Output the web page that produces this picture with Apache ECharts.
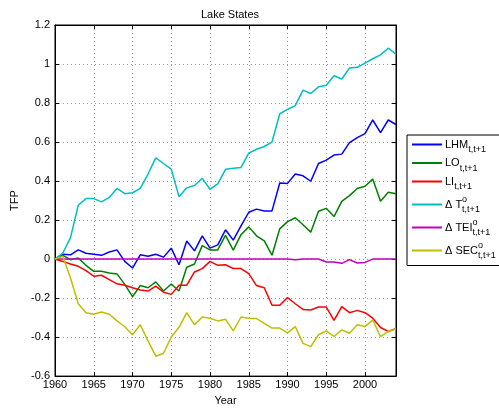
<!DOCTYPE html>
<html>
<head>
<meta charset="utf-8">
<script src="https://cdn.jsdelivr.net/npm/echarts@6/dist/echarts.min.js"></script>
<style>
  html, body { margin: 0; padding: 0; background: #fff; }
  #chart { width: 499px; height: 411px; }
</style>
</head>
<body>
<div id="chart"></div>
<script>
// years 1960..2004
var years = [];
for (var y = 1960; y <= 2004; y++) years.push(y);

var lhm = [0, 0.025, 0.022, 0.047, 0.03, 0.025, 0.019, 0.036, 0.047, -0.012,
  -0.046, 0.022, 0.014, 0.025, 0.01, 0.056, -0.029, 0.093, 0.042, 0.119,
  0.056, 0.073, 0.15, 0.097, 0.17, 0.24, 0.256, 0.246, 0.247, 0.39,
  0.388, 0.436, 0.427, 0.399, 0.49, 0.507, 0.533, 0.538, 0.597, 0.623,
  0.643, 0.713, 0.648, 0.713, 0.69];
var lo = [0, 0.019, -0.003, 0.005, -0.032, -0.063, -0.063, -0.071, -0.076, -0.13,
  -0.193, -0.136, -0.147, -0.117, -0.164, -0.128, -0.164, -0.042, -0.025, 0.069,
  0.047, 0.047, 0.121, 0.046, 0.125, 0.165, 0.119, 0.093, 0.02, 0.155,
  0.192, 0.212, 0.176, 0.138, 0.245, 0.26, 0.218, 0.296, 0.325, 0.362,
  0.373, 0.41, 0.297, 0.342, 0.335];
var li = [0, -0.012, -0.025, -0.037, -0.059, -0.088, -0.083, -0.105, -0.127, -0.134,
  -0.147, -0.159, -0.164, -0.139, -0.17, -0.181, -0.134, -0.134, -0.066, -0.049,
  -0.012, -0.032, -0.029, -0.049, -0.049, -0.075, -0.136, -0.147, -0.237, -0.237,
  -0.197, -0.229, -0.258, -0.261, -0.246, -0.246, -0.314, -0.244, -0.275, -0.263,
  -0.275, -0.303, -0.351, -0.371, -0.356];
var dT = [0, 0.03, 0.11, 0.276, 0.31, 0.31, 0.293, 0.316, 0.362, 0.335,
  0.34, 0.362, 0.436, 0.519, 0.49, 0.461, 0.32, 0.365, 0.377, 0.414,
  0.358, 0.385, 0.46, 0.465, 0.47, 0.543, 0.563, 0.577, 0.6, 0.745,
  0.767, 0.787, 0.866, 0.849, 0.883, 0.891, 0.94, 0.923, 0.979, 0.983,
  1.005, 1.027, 1.047, 1.081, 1.05];
var dTEI = [0, 0, 0, 0, 0, 0, 0, 0, 0, 0,
  0, 0, 0, 0, 0, 0, 0, 0, 0, 0,
  0, 0, 0, 0, 0, 0, 0, 0, 0, 0,
  0, -0.003, 0, 0, 0, -0.015, -0.015, -0.022, -0.003, -0.02,
  -0.017, 0, 0, 0, 0];
var dSEC = [0, 0.014, -0.097, -0.229, -0.275, -0.283, -0.271, -0.283, -0.317, -0.347,
  -0.388, -0.337, -0.419, -0.498, -0.483, -0.4, -0.35, -0.275, -0.337, -0.297,
  -0.303, -0.317, -0.308, -0.368, -0.297, -0.303, -0.305, -0.33, -0.354, -0.354,
  -0.378, -0.346, -0.432, -0.449, -0.388, -0.368, -0.397, -0.363, -0.38, -0.337,
  -0.346, -0.312, -0.398, -0.371, -0.356];

var names = ['LHM', 'LO', 'LI', 'dT', 'dTEI', 'dSEC'];
var values = [lhm, lo, li, dT, dTEI, dSEC];
var colors = ['#0000ff', '#008000', '#ff0000', '#00bfbf', '#bf00bf', '#bfbf00'];
var labels = {
  LHM: '{b|LHM}{s|t,t+1}',
  LO: '{b|LO}{s|t,t+1}',
  LI: '{b|LI}{s|t,t+1}',
  dT: '{b|\u0394 T}{o|o}{s|t,t+1}',
  dTEI: '{b|\u0394 TEI}{o|o}{s|t,t+1}',
  dSEC: '{b|\u0394 SEC}{o|o}{s|t,t+1}'
};

var font = 'Liberation Sans, Arial, sans-serif';
var chart = echarts.init(document.getElementById('chart'));

var series = names.map(function (n, i) {
  return {
    name: n,
    type: 'line',
    showSymbol: false,
    symbol: 'none',
    animation: false,
    data: years.map(function (yr, k) { return [yr, values[i][k]]; }),
    lineStyle: { width: 1.5, color: colors[i] },
    itemStyle: { color: colors[i] }
  };
});

var tickStyle = { inside: true, length: 4, lineStyle: { color: '#000' } };

chart.setOption({
  backgroundColor: '#fff',
  animation: false,
  title: {
    text: 'Lake States',
    left: 225, top: 4, textAlign: 'center',
    textStyle: { fontFamily: font, fontSize: 11, fontWeight: 'normal', color: '#000' }
  },
  grid: {
    left: 55, right: 103, top: 25, bottom: 33,
    show: true, borderColor: '#000', borderWidth: 1, backgroundColor: '#fff'
  },
  legend: {
    orient: 'vertical',
    left: 407, top: 135,
    padding: [4, 8, 5, 5],
    itemGap: 3,
    itemWidth: 30,
    itemHeight: 2,
    icon: 'rect',
    borderColor: '#000', borderWidth: 1, backgroundColor: '#fff',
    data: names,
    formatter: function (n) { return labels[n]; },
    textStyle: {
      color: '#000', fontFamily: font, padding: [0, 0, 0, -2],
      rich: {
        b: { fontSize: 11, fontFamily: font, lineHeight: 20, verticalAlign: 'middle' },
        s: { fontSize: 9, fontFamily: font, lineHeight: 20, verticalAlign: 'bottom' },
        o: { fontSize: 9, fontFamily: font, lineHeight: 20, verticalAlign: 'top', width: 0, padding: [1, 0, 0, 0] }
      }
    }
  },
  xAxis: [{
    type: 'value', min: 1960, max: 2004, interval: 5,
    name: 'Year', nameLocation: 'middle', nameGap: 17,
    nameTextStyle: { fontFamily: font, fontSize: 11, color: '#000' },
    axisLine: { show: true, onZero: false, lineStyle: { color: '#000' } },
    axisTick: tickStyle,
    axisLabel: { showMaxLabel: false, fontFamily: font, fontSize: 11, color: '#000', margin: 3,
      formatter: function (v) { return String(v); } },
    splitLine: { show: true, lineStyle: { color: '#999', type: [1, 3], width: 1 } }
  }, {
    type: 'value', min: 1960, max: 2004, interval: 5, position: 'top',
    axisLine: { show: true, onZero: false, lineStyle: { color: '#000' } },
    axisTick: tickStyle, axisLabel: { show: false }, splitLine: { show: false }
  }],
  yAxis: [{
    type: 'value', min: -0.6, max: 1.2, interval: 0.2,
    name: 'TFP', nameLocation: 'middle', nameGap: 34, nameRotate: 90,
    nameTextStyle: { fontFamily: font, fontSize: 11, color: '#000' },
    axisLine: { show: true, onZero: false, lineStyle: { color: '#000' } },
    axisTick: tickStyle,
    axisLabel: { fontFamily: font, fontSize: 11, color: '#000', margin: 5,
      formatter: function (v) { return String(Math.round(v * 10) / 10); } },
    splitLine: { show: true, lineStyle: { color: '#999', type: [1, 3], width: 1 } }
  }, {
    type: 'value', min: -0.6, max: 1.2, interval: 0.2, position: 'right',
    axisLine: { show: true, onZero: false, lineStyle: { color: '#000' } },
    axisTick: tickStyle, axisLabel: { show: false }, splitLine: { show: false }
  }],
  series: series
});
</script>
</body>
</html>
